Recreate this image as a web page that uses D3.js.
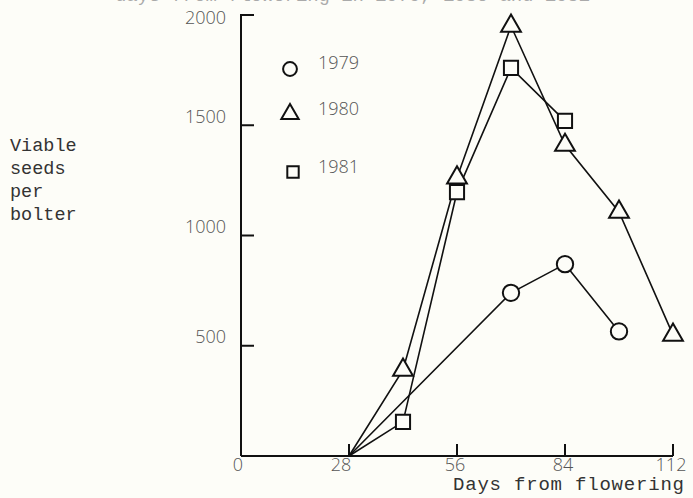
<!DOCTYPE html>
<html><head><meta charset="utf-8">
<script src="https://cdn.jsdelivr.net/npm/d3@7"></script>
<style>
html,body{margin:0;padding:0;background:#fdfdf8;}
svg{display:block;}
</style>
</head><body>
<script>
const days1979 = [28, 70, 84, 98];
const seeds1979 = [0, 740, 870, 565];
const days1980 = [28, 42, 56, 70, 84, 98, 112];
const seeds1980 = [0, 390, 1262, 1950, 1410, 1107, 549];
const days1981 = [28, 42, 56, 70, 84];
const seeds1981 = [0, 155, 1197, 1760, 1520];
const seriesNames = ["1979", "1980", "1981"];
const xTicks = [0, 28, 56, 84, 112];
const yTicks = [500, 1000, 1500, 2000];
const yLabelLines = ["Viable", "seeds", "per", "bolter"];
const xTitle = "Days from flowering";
const topTitle = "days from flowering in 1979, 1980 and 1981";

const W = 693, H = 498;
const bg = "#fdfdf8";
const svg = d3.select("body").append("svg").attr("width", W).attr("height", H);
svg.append("rect").attr("width", W).attr("height", H).attr("fill", bg);

const x = d3.scaleLinear().domain([0, 112]).range([241, 673]);
const y = d3.scaleLinear().domain([0, 2000]).range([456, 15]);

// cut-off title at top
svg.append("text").attr("x", 115).attr("y", 1)
  .attr("font-family", "Liberation Mono, monospace").attr("font-size", 19)
  .attr("textLength", 475)
  .attr("fill", "#aaa").text(topTitle);

// axes lines
const axisG = svg.append("g").attr("stroke", "#111").attr("stroke-width", 2).attr("fill", "none");
axisG.append("line").attr("x1", x(0)).attr("x2", x(0)).attr("y1", y(2000) - 1).attr("y2", y(0));
axisG.append("line").attr("x1", x(0)).attr("x2", x(112)).attr("y1", y(0)).attr("y2", y(0));
axisG.selectAll("line.yt").data(yTicks).enter().append("line")
  .attr("x1", x(0)).attr("x2", x(0) + 13).attr("y1", d => y(d)).attr("y2", d => y(d));
axisG.selectAll("line.xt").data(xTicks.slice(1)).enter().append("line")
  .attr("x1", d => x(d)).attr("x2", d => x(d)).attr("y1", y(0)).attr("y2", y(0) - 12);

const sans = "Open Sans, Noto Sans, sans-serif";
svg.selectAll("text.yl").data(yTicks).enter().append("text")
  .attr("x", 226).attr("y", d => y(d) + (d === 2000 ? 3 : -9)).attr("dy", "0.35em")
  .attr("text-anchor", "end").attr("font-family", sans).attr("font-size", 18)
  .attr("font-weight", 300)
  .attr("fill", "#555").text(d => d);
svg.selectAll("text.xl").data(xTicks).enter().append("text")
  .attr("x", d => x(d) - (d === 0 ? 3 : d === 28 ? 8 : 2)).attr("y", 465).attr("dy", "0.35em")
  .attr("text-anchor", "middle").attr("font-family", sans).attr("font-size", 18)
  .attr("font-weight", 300)
  .attr("fill", "#555").text(d => d);

const mono = "Liberation Mono, DejaVu Sans Mono, monospace";
svg.selectAll("text.ylab").data(yLabelLines).enter().append("text")
  .attr("x", 10).attr("y", (d, i) => 145 + i * 23).attr("dy", "0.35em")
  .attr("font-family", mono).attr("font-size", 18.5).attr("fill", "#333").text(d => d);
svg.append("text").attr("x", 453).attr("y", 490)
  .attr("font-family", mono).attr("font-size", 19).attr("fill", "#333")
  .attr("textLength", 231).text(xTitle);

const series = [
  {name: seriesNames[0], xs: days1979, ys: seeds1979, sym: d3.symbolCircle, size: 210},
  {name: seriesNames[1], xs: days1980, ys: seeds1980, sym: d3.symbolTriangle, size: 170},
  {name: seriesNames[2], xs: days1981, ys: seeds1981, sym: d3.symbolSquare, size: 200}
];
const line = d3.line().x(d => x(d[0])).y(d => y(d[1]));
series.forEach(s => {
  const pts = s.xs.map((d, i) => [d, s.ys[i]]);
  svg.append("path").datum(pts).attr("d", line)
    .attr("fill", "none").attr("stroke", "#111").attr("stroke-width", 1.6);
});
series.forEach(s => {
  const pts = s.xs.map((d, i) => [d, s.ys[i]]).filter(p => p[1] > 0);
  svg.selectAll(null).data(pts).enter().append("path")
    .attr("d", d3.symbol().type(s.sym).size(s.size))
    .attr("transform", d => `translate(${x(d[0])},${y(d[1])})`)
    .attr("fill", bg).attr("stroke", "#111").attr("stroke-width", 2);
});

const legendPos = [[290, 69, 63], [290, 114, 109], [293, 172, 167]];
series.forEach((s, i) => {
  const [lx, ly, ty] = legendPos[i];
  svg.append("path").attr("d", d3.symbol().type(s.sym).size(i === 0 ? 150 : 130))
    .attr("transform", `translate(${lx},${ly})`)
    .attr("fill", bg).attr("stroke", "#111").attr("stroke-width", 2);
  svg.append("text").attr("x", 318).attr("y", ty).attr("dy", "0.35em")
    .attr("font-family", sans).attr("font-size", 18).attr("font-weight", 300)
    .attr("fill", "#555").text(s.name);
});
</script>
</body></html>
